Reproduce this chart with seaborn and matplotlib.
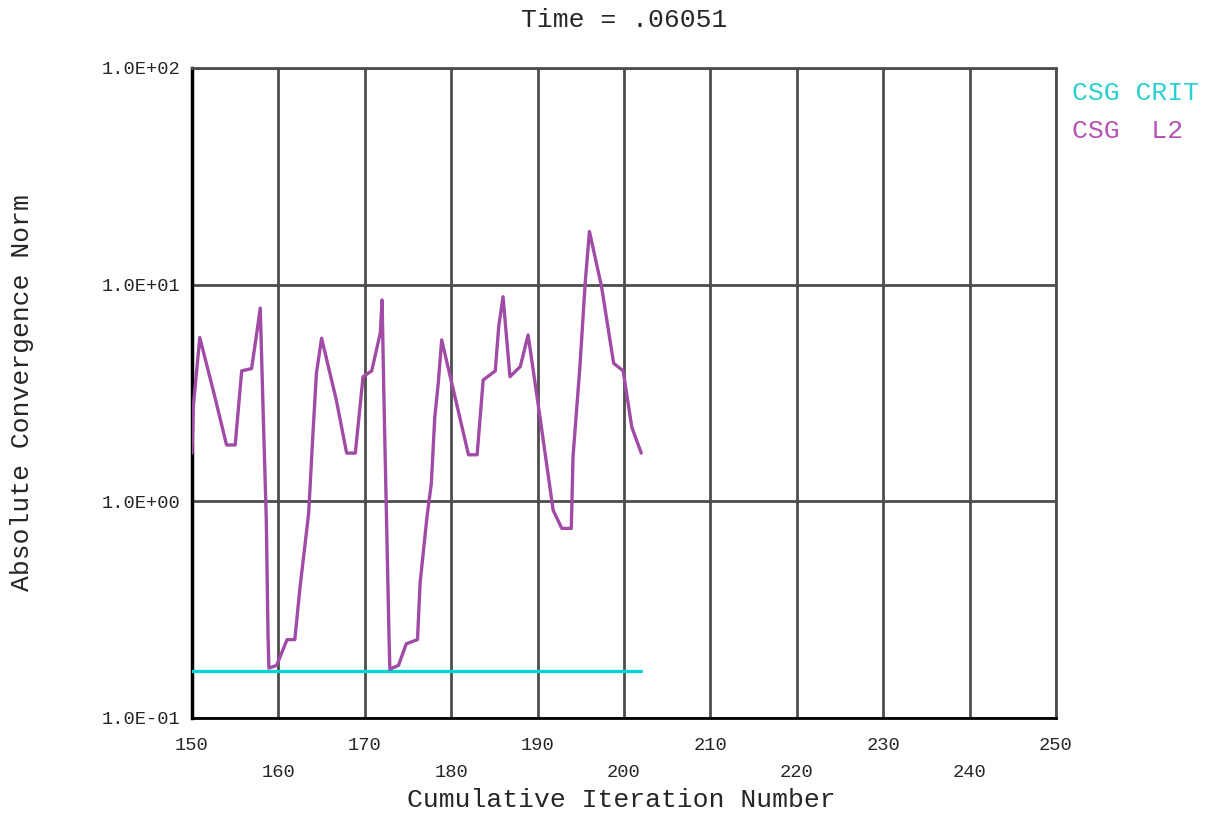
import matplotlib
matplotlib.use("Agg")
import matplotlib.pyplot as plt
import matplotlib.ticker as mticker
import numpy as np
import pandas as pd
import seaborn as sns

# CSG L2 norm per cumulative iteration
l2_iter = [
    150.0, 150.15, 150.9, 152.5, 154.0, 155.0, 155.75, 156.9, 157.5, 157.9,
    158.2, 158.6, 158.8, 158.9, 159.8, 161.0, 161.9, 162.5, 163.5, 164.0,
    164.4, 165.0, 166.7, 167.9, 168.9, 169.8, 170.8, 171.8, 172.0, 172.2,
    172.5, 172.8, 172.9, 173.9, 174.8, 176.1, 176.4, 177.2, 177.7, 178.1,
    178.5, 178.9, 182.0, 183.0, 183.7, 185.1, 185.5, 186.0, 186.8, 188.0,
    188.9, 190.1, 191.8, 192.8, 193.9, 194.1, 194.9, 195.5, 196.0, 197.4,
    198.8, 199.9, 200.9, 202.0,
]
l2_norm = [
    1.67, 2.74, 5.7, 3.2, 1.82, 1.82, 4.0, 4.1, 6.0, 7.8,
    2.9, 0.82, 0.24, 0.17, 0.175, 0.23, 0.23, 0.40, 0.88, 2.06,
    3.9, 5.66, 2.94, 1.67, 1.67, 3.76, 4.0, 6.0, 8.5, 3.2,
    0.88, 0.24, 0.168, 0.175, 0.22, 0.23, 0.42, 0.85, 1.21, 2.45,
    3.5, 5.56, 1.64, 1.64, 3.63, 4.0, 6.4, 8.8, 3.76, 4.19,
    5.86, 2.74, 0.91, 0.75, 0.75, 1.61, 4.2, 10.1, 17.6, 9.8,
    4.34, 4.0, 2.2, 1.67,
]

# CSG convergence criterion
crit_iter = [150.0, 202.0]
crit_norm = [0.165, 0.165]

title = "Time = .06051"
series_names = ["CSG CRIT", "CSG  L2"]
y_ticks = [0.1, 1.0, 10.0, 100.0]
y_tick_labels = ["1.0E-01", "1.0E+00", "1.0E+01", "1.0E+02"]
x_major = [150, 170, 190, 210, 230, 250]
x_minor = [160, 180, 200, 220, 240]

CRIT_COLOR = "#00d4d4"
L2_COLOR = "#a04ba6"
GRID_COLOR = "#4d4d4d"
TICK_FS = 13.5
LABEL_FS = 19

sns.set_theme(style="white")
plt.rcParams["font.family"] = ["Liberation Mono", "DejaVu Sans Mono"]
plt.rcParams["font.size"] = 12

df = pd.concat(
    [
        pd.DataFrame({"iter": crit_iter, "norm": crit_norm, "series": series_names[0]}),
        pd.DataFrame({"iter": l2_iter, "norm": l2_norm, "series": series_names[1]}),
    ],
    ignore_index=True,
)

fig = plt.figure(figsize=(12.11, 8.14), dpi=100)
ax = fig.add_axes([192 / 1211, 1 - 718 / 814, 864 / 1211, 650 / 814])

sns.lineplot(
    data=df,
    x="iter",
    y="norm",
    hue="series",
    palette={series_names[0]: CRIT_COLOR, series_names[1]: L2_COLOR},
    linewidth=2.4,
    sort=False,
    legend=False,
    ax=ax,
    zorder=3,
)

ax.set_yscale("log")
ax.set_ylim(0.1, 100)
ax.set_xlim(150, 250)

ax.yaxis.set_major_locator(mticker.FixedLocator(y_ticks))
ax.yaxis.set_major_formatter(mticker.FixedFormatter(y_tick_labels))
ax.yaxis.set_minor_locator(mticker.LogLocator(base=10, subs=[2, 4, 6, 8]))
ax.yaxis.set_minor_formatter(mticker.NullFormatter())

ax.xaxis.set_major_locator(mticker.FixedLocator(x_major))
ax.xaxis.set_major_formatter(mticker.FixedFormatter([str(v) for v in x_major]))
ax.xaxis.set_minor_locator(mticker.FixedLocator(x_minor))
ax.xaxis.set_minor_formatter(mticker.FixedFormatter([str(v) for v in x_minor]))

ax.tick_params(axis="x", which="major", direction="out", length=12, width=2,
               color=GRID_COLOR, pad=2, labelsize=TICK_FS)
ax.tick_params(axis="x", which="minor", direction="out", length=12, width=2,
               color=GRID_COLOR, pad=21, labelsize=TICK_FS)
ax.tick_params(axis="y", which="major", direction="out", length=7, width=2,
               color="#222222", pad=1, labelsize=TICK_FS)
ax.tick_params(axis="y", which="minor", direction="out", length=6, width=2,
               color="#444444")

ax.grid(True, which="major", axis="both", color=GRID_COLOR, linewidth=2)
ax.grid(True, which="minor", axis="x", color=GRID_COLOR, linewidth=2)

ax.spines["left"].set_color("black")
ax.spines["left"].set_linewidth(2.5)
ax.spines["bottom"].set_color("black")
ax.spines["bottom"].set_linewidth(2)
for side in ["top", "right"]:
    ax.spines[side].set_color(GRID_COLOR)
    ax.spines[side].set_linewidth(2)

ax.set_xlabel("Cumulative Iteration Number", fontsize=LABEL_FS, va="center")
ax.xaxis.set_label_coords(0.497, -0.126)
ax.set_ylabel("Absolute Convergence Norm", fontsize=LABEL_FS, va="center")
ax.yaxis.set_label_coords(-0.197, 0.5)

ax.set_title(title, fontsize=LABEL_FS, y=1.0738, pad=0, va="center")

ax.text(1.0185, 0.9615, series_names[0], color="#2ccfcf", fontsize=LABEL_FS,
        transform=ax.transAxes, va="center", ha="left", clip_on=False)
ax.text(1.0185, 0.903, series_names[1], color="#b454b4", fontsize=LABEL_FS,
        transform=ax.transAxes, va="center", ha="left", clip_on=False)

fig.savefig("out.png", dpi=100, facecolor="white")
